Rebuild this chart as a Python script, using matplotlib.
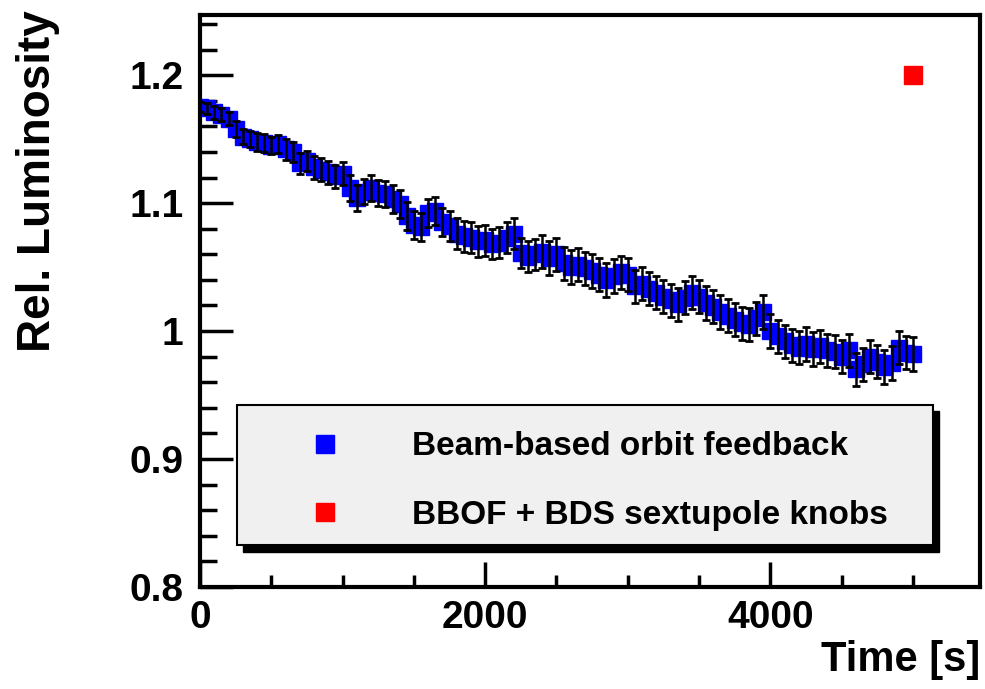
import numpy as np
import matplotlib.pyplot as plt
from matplotlib.lines import Line2D
from matplotlib.patches import Rectangle
from matplotlib.ticker import MultipleLocator

plt.rcParams['font.family'] = ['Liberation Sans', 'DejaVu Sans']
plt.rcParams['font.weight'] = 'bold'

# Beam-based orbit feedback run (one point every 50 s)
time_s = np.arange(0, 5001, 50)
lumi = [1.175, 1.174, 1.171, 1.169, 1.166, 1.158, 1.152, 1.150, 1.148, 1.147,
        1.145, 1.146, 1.142, 1.140, 1.131, 1.133, 1.128, 1.126, 1.124, 1.121,
        1.123, 1.112, 1.104, 1.109, 1.112, 1.108, 1.107, 1.103, 1.099, 1.090,
        1.083, 1.081, 1.092, 1.094, 1.085, 1.082, 1.076, 1.074, 1.073, 1.070,
        1.071, 1.068, 1.069, 1.073, 1.076, 1.061, 1.058, 1.060, 1.062, 1.057,
        1.060, 1.053, 1.050, 1.052, 1.049, 1.047, 1.044, 1.040, 1.043, 1.046,
        1.044, 1.035, 1.037, 1.033, 1.030, 1.027, 1.024, 1.021, 1.026, 1.030,
        1.027, 1.022, 1.019, 1.015, 1.012, 1.009, 1.006, 1.005, 1.010, 1.015,
        1.000, 0.996, 0.992, 0.989, 0.987, 0.990, 0.986, 0.988, 0.985, 0.984,
        0.980, 0.985, 0.970, 0.974, 0.980, 0.976, 0.972, 0.975, 0.987, 0.983,
        0.982]
lumi_err = [0.004, 0.004, 0.005, 0.005, 0.005, 0.006, 0.006, 0.006, 0.007, 0.007,
            0.007, 0.007, 0.008, 0.008, 0.008, 0.008, 0.009, 0.009, 0.009, 0.009,
            0.009, 0.010, 0.010, 0.010, 0.010, 0.010, 0.010, 0.011, 0.011, 0.011,
            0.011, 0.011, 0.011, 0.011, 0.011, 0.012, 0.012, 0.012, 0.012, 0.012,
            0.012, 0.012, 0.012, 0.012, 0.012, 0.012, 0.012, 0.012, 0.013, 0.013,
            0.013, 0.013, 0.013, 0.013, 0.013, 0.013, 0.013, 0.013, 0.013, 0.013,
            0.013, 0.013, 0.013, 0.013, 0.013, 0.013, 0.013, 0.013, 0.013, 0.013,
            0.013, 0.013, 0.013, 0.013, 0.013, 0.013, 0.013, 0.013, 0.013, 0.013,
            0.013, 0.013, 0.013, 0.013, 0.013, 0.013, 0.013, 0.013, 0.013, 0.013,
            0.013, 0.013, 0.013, 0.013, 0.013, 0.013, 0.013, 0.013, 0.013, 0.013,
            0.013]

# BBOF + BDS sextupole knobs
knob_time = [5000]
knob_lumi = [1.2]

labels = ['Beam-based orbit feedback', 'BBOF + BDS sextupole knobs']

fig = plt.figure(figsize=(9.85, 6.89), dpi=100)
ax = fig.add_axes([200 / 985, 102 / 689, 780 / 985, 572 / 689])

ax.plot(time_s, lumi, 's', color='#0000ff', markersize=11.5, zorder=2)
ax.errorbar(time_s, lumi, yerr=lumi_err, fmt='none', ecolor='black',
            elinewidth=1.8, capsize=3.2, capthick=2, zorder=3)
ax.plot(knob_time, knob_lumi, 's', color='#ff0000', markersize=13, zorder=4)

ax.set_xlim(0, 5470)
ax.set_ylim(0.8, 1.247)
ax.xaxis.set_major_locator(MultipleLocator(2000))
ax.xaxis.set_minor_locator(MultipleLocator(500))
ax.yaxis.set_major_locator(MultipleLocator(0.1))
ax.yaxis.set_minor_locator(MultipleLocator(0.02))
ax.yaxis.set_major_formatter(plt.FuncFormatter(lambda v, p: f'{v:g}'))

for s in ax.spines.values():
    s.set_linewidth(3)
ax.tick_params(which='both', direction='in', top=False, right=False,
               width=2.5, labelsize=28)
ax.tick_params(axis='y', which='major', length=24, pad=12)
ax.tick_params(axis='y', which='minor', length=12)
ax.tick_params(axis='x', which='major', length=18, pad=9)
ax.tick_params(axis='x', which='minor', length=9)
for lab in ax.get_xticklabels() + ax.get_yticklabels():
    lab.set_fontweight('bold')

fig.text(980 / 985, 1 - 660 / 689, 'Time [s]', ha='right', va='center',
         fontsize=30, fontweight='bold')
fig.text(38 / 985, 1 - 10 / 689, 'Rel. Luminosity', ha='center', va='top',
         rotation=90, fontsize=33, fontweight='bold')

# legend box with ROOT style shadow
x0, y0, w, h = 0.047, 0.073, 0.893, 0.245
ax.add_patch(Rectangle((x0 + 0.008, y0 - 0.011), w, h, transform=ax.transAxes,
                       facecolor='black', edgecolor='black', zorder=5))
ax.add_patch(Rectangle((x0, y0), w, h, transform=ax.transAxes,
                       facecolor='#f0f0f0', edgecolor='black', linewidth=1.5,
                       zorder=6))
handles = [Line2D([], [], marker='s', linestyle='none', color='#0000ff', markersize=13),
           Line2D([], [], marker='s', linestyle='none', color='#ff0000', markersize=13)]
leg = ax.legend(handles, labels, loc='center left',
                bbox_to_anchor=(0.118, y0 + h / 2 - 0.010),
                bbox_transform=ax.transAxes, frameon=False,
                labelspacing=1.12, handletextpad=2.1, handlelength=1.0,
                borderpad=0, prop={'weight': 'bold', 'size': 24})
leg.set_zorder(7)

fig.savefig('out.png', dpi=100)
